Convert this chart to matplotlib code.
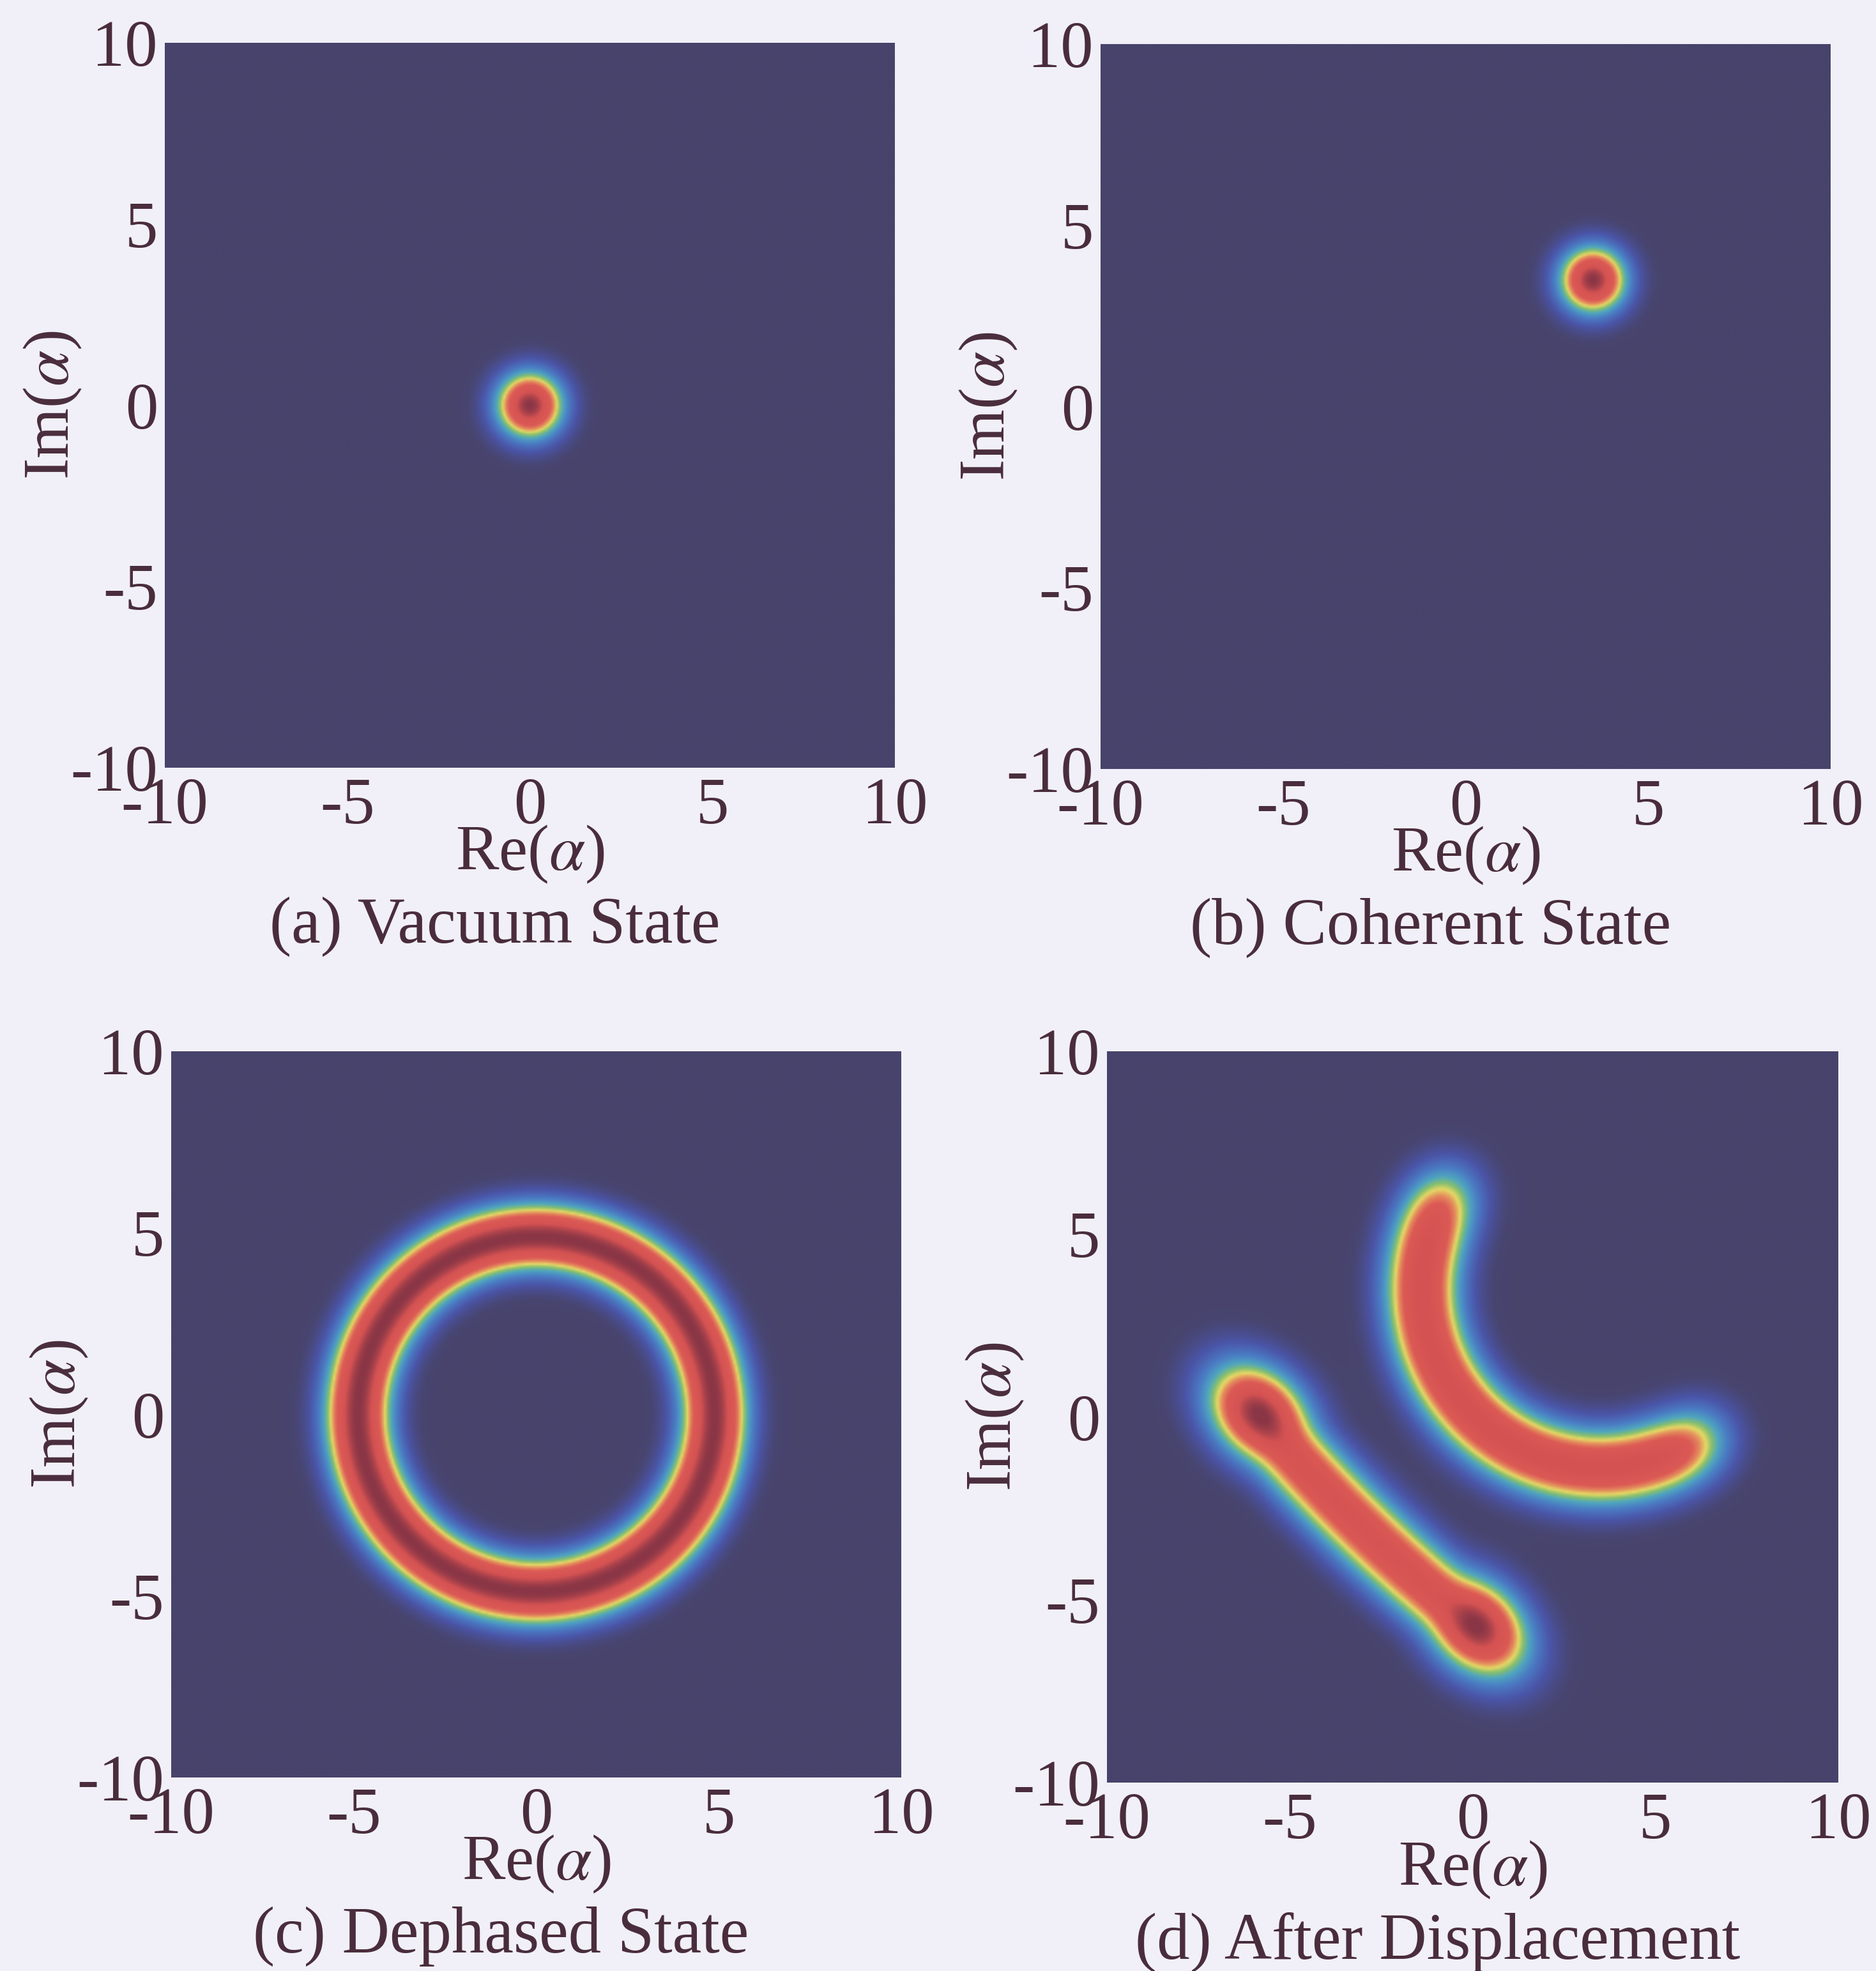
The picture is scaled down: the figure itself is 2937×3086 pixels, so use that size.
import numpy as np
import matplotlib.pyplot as plt
from matplotlib.colors import LinearSegmentedColormap

plt.rcParams['font.family'] = 'serif'
plt.rcParams['font.serif'] = ['Liberation Serif', 'DejaVu Serif']
plt.rcParams['mathtext.fontset'] = 'stix'
plt.rcParams['axes.unicode_minus'] = False

# axes and labels
axis_limits = [-10.0, 10.0]
tick_values = [-10, -5, 0, 5, 10]
tick_labels = ['-10', '-5', '0', '5', '10']
x_label = r'Re($\alpha$)'
y_label = r'Im($\alpha$)'
captions = ['(a) Vacuum State', '(b) Coherent State',
            '(c) Dephased State', '(d) After Displacement']

# coherent amplitudes (Re, Im)
vacuum_alpha = [0.0, 0.0]
coherent_alpha = [3.5, 3.5]
# dephased state: ring of radius |alpha|
dephased_radius = 4.95

# after displacement: part of the ring around coherent_alpha
arc_center = [3.5, 3.5]
arc_radius = 4.95
arc_angles_deg = [143.0, 309.0]
arc_level = 0.87
stroke_width = 1.15
# ... and a bar with lumps at both ends
lump_a = [-5.85, 0.07]
lump_b = [0.12, -5.75]
bar_overhang = 0.3
bar_bow = 0.25
bar_level = 0.84
lump_level = 1.0
lump_along = 1.75
lump_across = 1.3

# colour scale as printed
scale_values = [0.0, 0.05, 0.18, 0.32, 0.43, 0.51, 0.58, 0.65, 0.72, 0.88, 1.0]
scale_colors = ['#47436b', '#484571', '#4b55a8', '#4a7cc4', '#4fa6bf', '#86bf6e',
                '#e6d865', '#e38a5c', '#dc5a55', '#d45252', '#8a3646']

text_color = '#4a2d3c'
paper_color = '#f1f0f9'

grid = np.linspace(axis_limits[0], axis_limits[1], 401)
X, Y = np.meshgrid(grid, grid)


def gauss(cx, cy, width=1.0):
    return np.exp(-((X - cx) ** 2 + (Y - cy) ** 2) / width ** 2)


def stretched_gauss(c, u, along, across):
    dx, dy = X - c[0], Y - c[1]
    s = dx * u[0] + dy * u[1]
    n = -dx * u[1] + dy * u[0]
    return np.exp(-(s / along) ** 2 - (n / across) ** 2)


def along_curve(px, py, width=1.0):
    """Gaussian smeared along a sampled curve, peak ~1 across the middle."""
    seg = np.hypot(np.diff(px), np.diff(py))
    ds = np.concatenate([[seg[0] / 2], (seg[:-1] + seg[1:]) / 2, [seg[-1] / 2]])
    out = np.zeros_like(X)
    for x0, y0, w in zip(px, py, ds):
        out += w * gauss(x0, y0, width)
    return out / (np.sqrt(np.pi) * width)


def husimi_vacuum():
    return gauss(*vacuum_alpha)


def husimi_coherent():
    return gauss(*coherent_alpha)


def husimi_dephased():
    phi = np.linspace(0, 2 * np.pi, 721)
    q = along_curve(dephased_radius * np.cos(phi), dephased_radius * np.sin(phi))
    return q / q.max()


def husimi_displaced():
    th = np.radians(np.linspace(arc_angles_deg[0], arc_angles_deg[1], 300))
    arc = along_curve(arc_center[0] + arc_radius * np.cos(th),
                      arc_center[1] + arc_radius * np.sin(th), stroke_width)

    a, b = np.array(lump_a), np.array(lump_b)
    u = (b - a) / np.hypot(*(b - a))
    p0, p2 = a - bar_overhang * u, b + bar_overhang * u
    normal = np.array([-u[1], u[0]])
    if normal.sum() > 0:
        normal = -normal
    p1 = (p0 + p2) / 2 + 2 * bar_bow * normal
    t = np.linspace(0, 1, 300)[:, None]
    pts = (1 - t) ** 2 * p0 + 2 * (1 - t) * t * p1 + t ** 2 * p2
    bar = bar_level * along_curve(pts[:, 0], pts[:, 1], stroke_width)

    lumps = lump_level * np.maximum(stretched_gauss(a, u, lump_along, lump_across),
                                    stretched_gauss(b, u, lump_along, lump_across))
    # soft maximum so the lumps merge into the bar without piling up
    p = 5
    bar_part = (bar ** p + lumps ** p) ** (1 / p)
    q = arc_level * arc + bar_part
    return np.clip(q, 0, 1)


fields = [husimi_vacuum(), husimi_coherent(), husimi_dephased(), husimi_displaced()]

cmap = LinearSegmentedColormap.from_list('printed_jet', list(zip(scale_values, scale_colors)))

W, H = 2937, 3086
fig = plt.figure(figsize=(W / 100, H / 100), dpi=100, facecolor=paper_color)

# left, top, width, height in pixels
boxes = [(258, 67, 1143, 1135), (1723, 69, 1143, 1135),
         (268, 1646, 1143, 1137), (1733, 1646, 1145, 1145)]

for field, caption, (left, top, w, h) in zip(fields, captions, boxes):
    ax = fig.add_axes([left / W, 1 - (top + h) / H, w / W, h / H])
    ax.imshow(field, extent=axis_limits + axis_limits, origin='lower', cmap=cmap,
              vmin=0, vmax=1, interpolation='bilinear', aspect='auto')
    ax.set_xlim(axis_limits)
    ax.set_ylim(axis_limits)
    ax.set_xticks(tick_values, labels=tick_labels)
    ax.set_yticks(tick_values, labels=tick_labels)
    ax.tick_params(axis='both', length=0, labelsize=74, colors=text_color)
    ax.tick_params(axis='x', pad=11)
    ax.tick_params(axis='y', pad=8)
    for s in ax.spines.values():
        s.set_visible(False)

    ax.set_xlabel(x_label, fontsize=73, color=text_color, va='baseline')
    ax.xaxis.set_label_coords(0.5, -0.141)
    ax.set_ylabel(y_label, fontsize=73, color=text_color, va='center')
    ax.yaxis.set_label_coords(-0.153, 0.5)

    ax.text(0.452, -0.241, caption, transform=ax.transAxes, ha='center',
            va='baseline', fontsize=74, color=text_color)

fig.savefig('out.png', dpi=100, facecolor=paper_color)
